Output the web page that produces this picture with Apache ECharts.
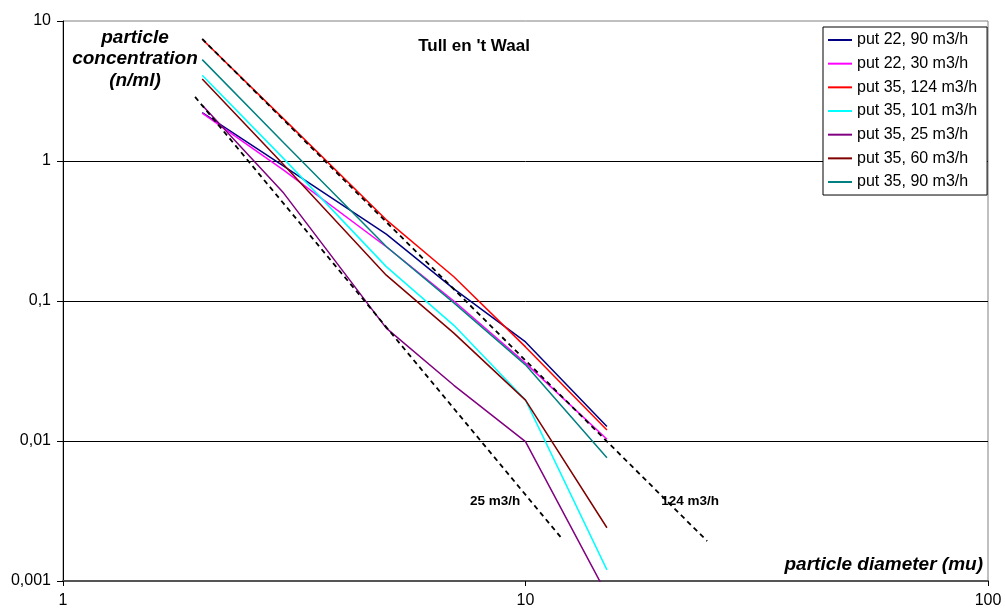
<!DOCTYPE html>
<html>
<head>
<meta charset="utf-8">
<script src="https://cdn.jsdelivr.net/npm/echarts@6/dist/echarts.min.js"></script>
<style>
  html, body { margin: 0; padding: 0; background: #fff; }
  #chart { width: 1005px; height: 609px; }
</style>
</head>
<body>
<div id="chart"></div>
<script>
// particle diameters (mu)
const diameters = [2, 3, 5, 7, 10, 15];

// particle concentration (n/ml) per well and flow rate
const put22_90  = [2.22, 0.92, 0.30, 0.122, 0.051, 0.0127];
const put22_30  = [2.20, 0.86, 0.244, 0.100, 0.036, 0.0103];
const put35_124 = [7.40, 2.00, 0.38, 0.149, 0.047, 0.0120];
const put35_101 = [4.10, 1.04, 0.176, 0.067, 0.0196, 0.0012];
const put35_25  = [2.50, 0.59, 0.064, 0.025, 0.0099, 0.0008];
const put35_60  = [3.85, 0.94, 0.153, 0.059, 0.0196, 0.0024];
const put35_90  = [5.30, 1.35, 0.245, 0.097, 0.035, 0.0076];

// power-law reference lines [diameter, concentration]
const ref25  = [[1.93, 2.87], [12.0, 0.0020]];
const ref124 = [[2.0, 7.44], [24.7, 0.00193]];
const refLabels = [[8.6, 0.0037, '25 m3/h'], [22.7, 0.0037, '124 m3/h']];

const yTicks = { 0.001: '0,001', 0.01: '0,01', 0.1: '0,1', 1: '1', 10: '10' };

const seriesDefs = [
  ['put 22, 90 m3/h', put22_90, '#000080'],
  ['put 22, 30 m3/h', put22_30, '#FF00FF'],
  ['put 35, 124 m3/h', put35_124, '#FF0000'],
  ['put 35, 101 m3/h', put35_101, '#00FFFF'],
  ['put 35, 25 m3/h', put35_25, '#800080'],
  ['put 35, 60 m3/h', put35_60, '#800000'],
  ['put 35, 90 m3/h', put35_90, '#008080']
];

const FONT = '"Liberation Sans", Arial, sans-serif';

const series = seriesDefs.map(([name, vals, color]) => ({
  name: name,
  type: 'line',
  data: diameters.map((d, i) => [d, vals[i]]),
  symbol: 'none',
  clip: true,
  lineStyle: { color: color, width: 1.5 },
  itemStyle: { color: color },
  z: 3
}));

[ref25, ref124].forEach((pts, k) => {
  series.push({
    name: k === 0 ? 'ref25' : 'ref124',
    type: 'line',
    data: pts,
    symbol: 'none',
    clip: true,
    lineStyle: { color: '#000', width: 1.8, type: [5, 4] },
    z: 4,
    silent: true
  });
});

series.push({
  name: 'refLabels',
  type: 'scatter',
  symbolSize: 0,
  itemStyle: { opacity: 1 },
  data: refLabels.map(r => ({ value: [r[0], r[1]], name: r[2] })),
  label: {
    show: true,
    position: 'inside',
    formatter: p => p.name,
    color: '#000',
    opacity: 1,
    textBorderWidth: 0,
    fontFamily: FONT,
    fontWeight: 'bold',
    fontSize: 13.5
  },
  z: 5,
  silent: true
});

const chart = echarts.init(document.getElementById('chart'), null, { renderer: 'canvas' });
chart.setOption({
  animation: false,
  backgroundColor: '#fff',
  title: [
    {
      text: "Tull en 't Waal",
      left: 474, top: 38, textAlign: 'center', padding: 0,
      textStyle: { fontFamily: FONT, fontWeight: 'bold', fontSize: 17, color: '#000' }
    },
    {
      text: 'particle\nconcentration\n(n/ml)',
      left: 135, top: 27, textAlign: 'center', padding: 0,
      textStyle: { fontFamily: FONT, fontWeight: 'bold', fontStyle: 'italic', fontSize: 19, lineHeight: 21.5, color: '#000' }
    },
    {
      text: 'particle diameter (mu)',
      right: 22, top: 555, padding: 0,
      textStyle: { fontFamily: FONT, fontWeight: 'bold', fontStyle: 'italic', fontSize: 19, color: '#000' }
    }
  ],
  legend: {
    data: seriesDefs.map(s => s[0]),
    orient: 'vertical',
    left: 823, top: 27,
    padding: [5, 10, 5, 5],
    icon: 'rect',
    itemWidth: 24, itemHeight: 2,
    itemGap: 7.67,
    borderColor: '#000', borderWidth: 1,
    backgroundColor: '#fff',
    textStyle: { fontFamily: FONT, fontSize: 16, lineHeight: 16, color: '#000' },
    selectedMode: false
  },
  grid: {
    left: 63, right: 17, top: 21, bottom: 28,
    show: true, borderColor: '#808080', borderWidth: 1, backgroundColor: '#fff'
  },
  xAxis: {
    type: 'log', logBase: 10, min: 1, max: 100,
    axisLine: { show: true, lineStyle: { color: '#555', width: 2 } },
    axisTick: { show: true, length: 5, lineStyle: { color: '#000' } },
    axisLabel: { fontFamily: FONT, fontSize: 16, color: '#000', margin: 12 },
    splitLine: { show: false },
    minorTick: { show: false }
  },
  yAxis: {
    type: 'log', logBase: 10, min: 0.001, max: 10,
    axisLine: { show: true, lineStyle: { color: '#000', width: 1 } },
    axisTick: { show: true, length: 6, lineStyle: { color: '#000' } },
    axisLabel: {
      fontFamily: FONT, fontSize: 16, color: '#000', margin: 12,
      formatter: v => {
        const key = +(+v).toPrecision(3);
        return yTicks[key] !== undefined ? yTicks[key] : String(key).replace('.', ',');
      }
    },
    splitLine: { show: true, showMinLine: false, showMaxLine: false, lineStyle: { color: '#000', width: 1 } }
  },
  series: series
});
</script>
</body>
</html>
